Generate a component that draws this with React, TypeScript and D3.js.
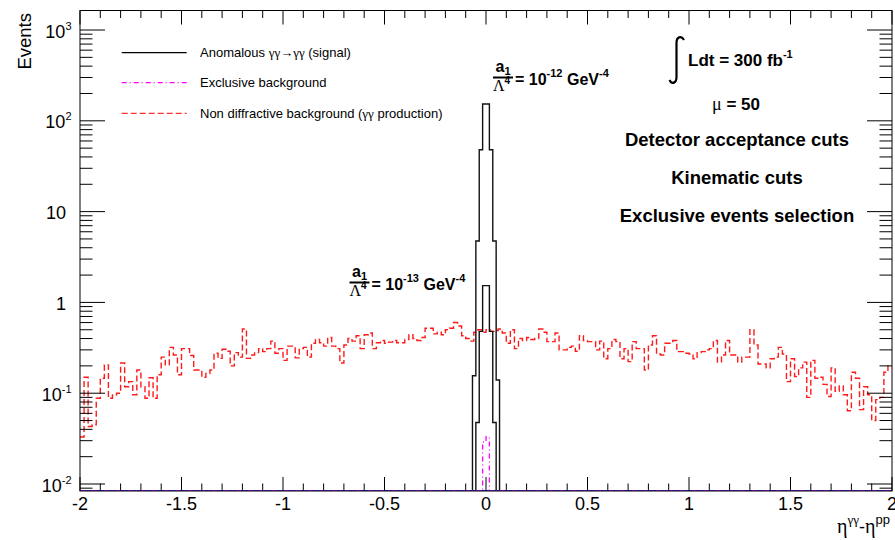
import React from 'react';
import * as d3 from 'd3';

// ---------------- data ----------------
const X_DOMAIN: [number, number] = [-2, 2];
const N_BINS = 200;

// Non diffractive background (gamma gamma production), 200 bins of 0.02 from -2 to 2
const nonDiffractive = [
  0.033, 0.15, 0.043, 0.045, 0.088, 0.146, 0.205, 0.088, 0.096, 0.1,
  0.215, 0.118, 0.134, 0.096, 0.18, 0.118, 0.088, 0.148, 0.088, 0.16,
  0.25, 0.205, 0.32, 0.264, 0.16, 0.31, 0.31, 0.26, 0.18, 0.18,
  0.15, 0.165, 0.18, 0.275, 0.242, 0.305, 0.29, 0.2, 0.28, 0.25,
  0.51, 0.242, 0.264, 0.28, 0.31, 0.287, 0.31, 0.375, 0.275, 0.31,
  0.23, 0.33, 0.33, 0.245, 0.31, 0.32, 0.25, 0.355, 0.39, 0.36,
  0.33, 0.41, 0.33, 0.31, 0.215, 0.34, 0.4, 0.375, 0.43, 0.31,
  0.44, 0.46, 0.31, 0.36, 0.38, 0.355, 0.365, 0.38, 0.36, 0.36,
  0.39, 0.44, 0.4, 0.38, 0.41, 0.52, 0.52, 0.45, 0.47, 0.44,
  0.5, 0.52, 0.6, 0.55, 0.43, 0.4, 0.375, 0.47, 0.5, 0.47,
  0.5, 0.48, 0.49, 0.51, 0.46, 0.355, 0.5, 0.31, 0.4, 0.38,
  0.41, 0.39, 0.4, 0.51, 0.47, 0.37, 0.37, 0.46, 0.3, 0.3,
  0.32, 0.33, 0.29, 0.43, 0.38, 0.37, 0.37, 0.3, 0.375, 0.24,
  0.31, 0.39, 0.37, 0.24, 0.31, 0.223, 0.37, 0.31, 0.31, 0.18,
  0.34, 0.43, 0.27, 0.264, 0.355, 0.355, 0.38, 0.287, 0.287, 0.275,
  0.27, 0.24, 0.28, 0.287, 0.3, 0.31, 0.38, 0.22, 0.264, 0.38,
  0.264, 0.264, 0.22, 0.25, 0.25, 0.5, 0.34, 0.21, 0.21, 0.19,
  0.24, 0.25, 0.32, 0.27, 0.134, 0.24, 0.153, 0.19, 0.22, 0.09,
  0.23, 0.146, 0.15, 0.125, 0.092, 0.19, 0.105, 0.12, 0.096, 0.064,
  0.17, 0.146, 0.066, 0.118, 0.096, 0.05, 0.085, 0.09, 0.17, 0.2,
];

// Anomalous signal histograms (bins of 1/60 around 0)
const signalBinWidth = 1 / 60;
const signalLowEdges = [-4 / 60, -3 / 60, -2 / 60, -1 / 60, 0, 1 / 60, 2 / 60, 3 / 60];
const signalA12 = [0.156, 4.75, 48, 153, 153, 48, 4.75, 0.14];
const signalA13 = [0.0016, 0.0475, 0.48, 1.53, 1.53, 0.48, 0.0475, 0.0014];

// Exclusive background
const exclusiveLowEdges = [-1 / 60, 0];
const exclusiveValues = [0.029, 0.033];

const xTickValues = [-2, -1.5, -1, -0.5, 0, 0.5, 1, 1.5, 2];
const xTickLabels = ['-2', '-1.5', '-1', '-0.5', '0', '0.5', '1', '1.5', '2'];
const yDecades = [-2, -1, 0, 1, 2, 3];
const yDecadeBase = ['10', '10', '1', '10', '10', '10'];
const yDecadeExp = ['-2', '-1', '', '', '2', '3'];

const legendLabels = ['Anomalous ', 'Exclusive background', 'Non diffractive background ('];
const infoLines = ['Detector acceptance cuts', 'Kinematic cuts', 'Exclusive events selection'];

const SANS = '"Liberation Sans", Arial, Helvetica, sans-serif';
const SERIF = '"Liberation Serif", "Times New Roman", serif';

function Coupling({ x0, yBar, exp }: { x0: number; yBar: number; exp: string }) {
  return (
    <g fontFamily={SANS} fontWeight="bold" fill="#000">
      <text x={x0 + 2.5} y={yBar - 5.5} fontSize={16}>a<tspan fontSize={11} dy={3}>1</tspan></text>
      <line x1={x0} x2={x0 + 20} y1={yBar} y2={yBar} stroke="#000" strokeWidth={2} />
      <text x={x0} y={yBar + 13.5} fontSize={16}>
        <tspan fontFamily={SERIF} fontWeight="normal">Λ</tspan><tspan fontSize={10} dy={-7}>4</tspan>
      </text>
      <text x={x0 + 22} y={yBar + 7} fontSize={16}>
        = 10<tspan fontSize={11} dy={-8}>{exp}</tspan><tspan dy={8}> GeV</tspan><tspan fontSize={11} dy={-8}>-4</tspan>
      </text>
    </g>
  );
}

export default function App() {
  const L = 80, R = 892, T = 10.5, B = 491;
  const yMin = Math.pow(10, -2.077);
  const yMax = Math.pow(10, 3.215);
  const x = d3.scaleLinear().domain(X_DOMAIN).range([L, R]);
  const y = d3.scaleLog().domain([yMin, yMax]).range([B, T]);
  const yv = (v: number) => (v <= yMin ? B : y(v));

  const binW = (X_DOMAIN[1] - X_DOMAIN[0]) / N_BINS;
  let redPath = `M${x(X_DOMAIN[0])},${yv(nonDiffractive[0])}`;
  nonDiffractive.forEach((v, i) => {
    const hi = X_DOMAIN[0] + (i + 1) * binW;
    redPath += `H${x(hi)}`;
    if (i < nonDiffractive.length - 1) redPath += `V${yv(nonDiffractive[i + 1])}`;
  });

  const fullPath = (lows: number[], w: number, vals: number[]) => {
    let p = `M${x(X_DOMAIN[0])},${B}H${x(lows[0])}`;
    vals.forEach((v, i) => {
      p += `V${yv(v)}H${x(lows[i] + w)}`;
    });
    p += `V${B}H${x(X_DOMAIN[1])}`;
    return p;
  };

  const xMinor = d3.range(-20, 21).map((k) => k / 10);
  const yTicks: { v: number; major: boolean }[] = [];
  for (let d = -3; d <= 3; d++) {
    for (let m = 1; m <= 9; m++) {
      const v = m * Math.pow(10, d);
      if (v >= yMin && v <= yMax) yTicks.push({ v, major: m === 1 });
    }
  }

  const legendY = [52.7, 82.7, 113.3];
  const infoY = [146, 183.5, 221.5];

  return (
    <svg width={895} height={540} style={{ position: 'absolute', left: 0, top: 0, background: '#fff' }}
      xmlns="http://www.w3.org/2000/svg">
      <defs>
        <clipPath id="frame">
          <rect x={L} y={T} width={R - L} height={B - T} />
        </clipPath>
      </defs>
      <rect x={0} y={0} width={895} height={540} fill="#fff" />

      <g clipPath="url(#frame)" fill="none">
        <path d={redPath} stroke="#ff1a1a" strokeWidth={1.4} strokeDasharray="6 3" />
        <path d={fullPath(signalLowEdges, signalBinWidth, signalA12)} stroke="#111" strokeWidth={1.4} />
        <path d={fullPath(signalLowEdges, signalBinWidth, signalA13)} stroke="#111" strokeWidth={1.4} />
        <path d={`M${L},${B - 0.5}H${R}`} stroke="#2a2aff" strokeWidth={1.2} />
        <path d={fullPath(exclusiveLowEdges, signalBinWidth, exclusiveValues)} stroke="#ff00ff" strokeWidth={1.3}
          strokeDasharray="5 3 1 3" />
      </g>

      <rect x={L} y={T} width={R - L} height={B - T} fill="none" stroke="#000" strokeWidth={1} />

      <g stroke="#000" strokeWidth={1}>
        {xMinor.map((t, i) => {
          const major = Math.abs(t * 2 - Math.round(t * 2)) < 1e-6;
          const len = major ? 14 : 7.5;
          return (
            <g key={'xt' + i}>
              <line x1={x(t)} x2={x(t)} y1={B} y2={B - len} />
              <line x1={x(t)} x2={x(t)} y1={T} y2={T + len} />
            </g>
          );
        })}
        {yTicks.map((t, i) => {
          const len = t.major ? 25 : 12.5;
          return (
            <g key={'yt' + i}>
              <line x1={L} x2={L + len} y1={y(t.v)} y2={y(t.v)} />
              <line x1={R} x2={R - len} y1={y(t.v)} y2={y(t.v)} />
            </g>
          );
        })}
      </g>

      <g fontFamily={SANS} fontSize={18} textAnchor="middle" fill="#000">
        {xTickValues.map((t, i) => (
          <text key={'xl' + i} x={x(t)} y={510}>{xTickLabels[i]}</text>
        ))}
      </g>

      <g fontFamily={SANS} fontSize={18} textAnchor="end" fill="#000">
        {yDecades.map((d, i) => (
          <text key={'yl' + i} x={yDecadeExp[i] ? 71.5 : 66} y={y(Math.pow(10, d)) + 7.5}>
            {yDecadeBase[i]}
            {yDecadeExp[i] ? <tspan fontSize={11} dy={-8}>{yDecadeExp[i]}</tspan> : null}
          </text>
        ))}
      </g>

      <text transform="translate(31,13) rotate(-90)" textAnchor="end" fontFamily={SANS} fontSize={18.5}>Events</text>

      <text x={890} y={533} textAnchor="end" fill="#000">
        <tspan fontFamily={SERIF} fontSize={20}>η</tspan>
        <tspan fontFamily={SERIF} fontSize={13} dy={-9}>γγ</tspan>
        <tspan fontFamily={SANS} fontSize={18} dy={9}>-</tspan>
        <tspan fontFamily={SERIF} fontSize={20}>η</tspan>
        <tspan fontFamily={SANS} fontSize={13} dy={-9}>pp</tspan>
      </text>

      <g>
        <line x1={121.7} x2={186.7} y1={legendY[0]} y2={legendY[0]} stroke="#000" strokeWidth={1.3} />
        <line x1={121.7} x2={186.7} y1={legendY[1]} y2={legendY[1]} stroke="#ff00ff" strokeWidth={1.3} strokeDasharray="5 3 1 3" />
        <line x1={121.7} x2={186.7} y1={legendY[2]} y2={legendY[2]} stroke="#ff3030" strokeWidth={1.3} strokeDasharray="6 3" />
        <g fontFamily={SANS} fontSize={13} fill="#000">
          <text x={200} y={legendY[0] + 4.5}>
            {legendLabels[0]}
            <tspan fontFamily={SERIF}>γγ→γγ</tspan>
            {' (signal)'}
          </text>
          <text x={200} y={legendY[1] + 4.5}>{legendLabels[1]}</text>
          <text x={200} y={legendY[2] + 4.5}>
            {legendLabels[2]}
            <tspan fontFamily={SERIF}>γγ</tspan>
            {' production)'}
          </text>
        </g>
      </g>

      <Coupling x0={493} yBar={77.5} exp="-12" />
      <Coupling x0={349.5} yBar={282.5} exp="-13" />

      <path d="M684,40 C681,35 676.5,37 676.5,43 L676.5,77 C676.5,83 672,85 669.5,80" fill="none" stroke="#000" strokeWidth={2.2} />
      <text x={688} y={66} fontFamily={SANS} fontWeight="bold" fontSize={17}>
        Ldt = 300 fb<tspan fontSize={11} dy={-8}>-1</tspan>
      </text>
      <text x={736} y={110} textAnchor="middle" fontFamily={SANS} fontWeight="bold" fontSize={17}>
        <tspan fontFamily={SERIF} fontWeight="normal" fontSize={18}>μ</tspan> = 50
      </text>
      <g fontFamily={SANS} fontWeight="bold" fontSize={18.5} textAnchor="middle">
        {infoLines.map((s, i) => (
          <text key={'info' + i} x={737} y={infoY[i]}>{s}</text>
        ))}
      </g>
    </svg>
  );
}
